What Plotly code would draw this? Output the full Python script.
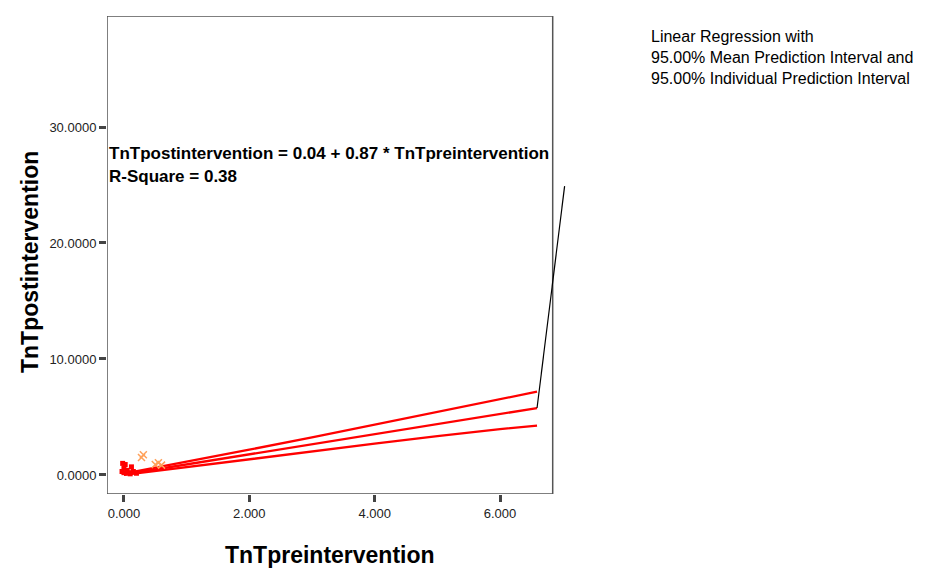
import plotly.graph_objects as go

# Data
line_x = [0.0, 1.0, 2.0, 3.0, 4.0, 5.0, 6.0, 6.59]
fit_y = [0.04, 0.91, 1.78, 2.65, 3.52, 4.39, 5.26, 5.77]
upper_y = [0.12, 1.13, 2.18, 3.25, 4.34, 5.43, 6.55, 7.18]
lower_y = [0.0, 0.69, 1.38, 2.05, 2.70, 3.35, 3.96, 4.25]

pts_x = [-0.03, 0.0, 0.02, -0.02, 0.05, 0.08, 0.1, 0.0, 0.12, 0.15, 0.2]
pts_y = [0.3, 0.6, 0.9, 1.0, 0.4, 0.2, 0.1, 0.2, 0.7, 0.3, 0.15]
faint_x = [0.28, 0.31, 0.5, 0.55, 0.6]
faint_y = [1.5, 1.75, 0.9, 1.05, 0.85]

connector_x = [6.59, 7.03]
connector_y = [5.77, 24.9]

x_ticks = [0, 2, 4, 6]
x_tick_text = ["0.000", "2.000", "4.000", "6.000"]
y_ticks = [0, 10, 20, 30]
y_tick_text = ["0.0000", "10.0000", "20.0000", "30.0000"]

x_box = [-0.27, 6.84]
y_box = [-1.64, 39.57]

FONT = "Liberation Sans, Arial, sans-serif"

fig = go.Figure()
for ys in (upper_y, fit_y, lower_y):
    fig.add_trace(go.Scatter(x=line_x, y=ys, mode="lines",
                             line=dict(color="#ff0000", width=2.3), showlegend=False))
fig.add_trace(go.Scatter(x=pts_x, y=pts_y, mode="markers",
                         marker=dict(symbol="square", size=5, color="#ff0000"),
                         showlegend=False))
fig.add_trace(go.Scatter(x=faint_x, y=faint_y, mode="markers",
                         marker=dict(symbol="x-thin-open", size=7,
                                     line=dict(color="rgba(240,90,110,0.55)", width=1.5)),
                         showlegend=False))
fig.add_trace(go.Scatter(x=connector_x, y=connector_y, mode="lines",
                         line=dict(color="black", width=1.2), showlegend=False))

fig.add_shape(type="rect", xref="x", yref="y", x0=x_box[0], x1=x_box[1],
              y0=y_box[0], y1=y_box[1], line=dict(color="#555555", width=1.5),
              layer="below")

fig.update_layout(
    width=930, height=568,
    margin=dict(l=107, r=361, t=16, b=74),
    paper_bgcolor="white", plot_bgcolor="white",
    font=dict(family=FONT, color="#222222"),
    xaxis=dict(range=[-0.27, 7.1], showgrid=False, zeroline=False, showline=False,
               tickvals=x_ticks, ticktext=x_tick_text, ticks="outside",
               ticklen=7, tickwidth=3, tickcolor="#444444",
               tickfont=dict(size=13, family=FONT, color="#222222")),
    yaxis=dict(range=y_box, showgrid=False, zeroline=False, showline=False,
               tickvals=y_ticks, ticktext=y_tick_text, ticks="outside",
               ticklen=7, tickwidth=3, tickcolor="#444444",
               tickfont=dict(size=13, family=FONT, color="#222222")),
    annotations=[
        dict(text="<b>TnTpostintervention = 0.04 + 0.87 * TnTpreintervention</b>",
             xref="paper", yref="paper", x=(107 - 107) / 462, y=(494 - 153) / 478,
             xanchor="left", yanchor="middle", showarrow=False,
             font=dict(size=17, family=FONT, color="black")),
        dict(text="<b>R-Square = 0.38</b>",
             xref="paper", yref="paper", x=(107 - 107) / 462, y=(494 - 176) / 478,
             xanchor="left", yanchor="middle", showarrow=False,
             font=dict(size=17, family=FONT, color="black")),
        dict(text="<b>TnTpreintervention</b>", xref="paper", yref="paper",
             x=(330 - 107) / 462, y=(494 - 555) / 478, xanchor="center", yanchor="middle",
             showarrow=False, font=dict(size=23, family=FONT, color="black")),
        dict(text="<b>TnTpostintervention</b>", xref="paper", yref="paper",
             x=(30 - 107) / 462, y=(494 - 262) / 478, xanchor="center", yanchor="middle",
             textangle=-90, showarrow=False, font=dict(size=23, family=FONT, color="black")),
        dict(text="Linear Regression with<br>95.00% Mean Prediction Interval and<br>95.00% Individual Prediction Interval",
             xref="paper", yref="paper", x=(649 - 107) / 462, y=(494 - 26) / 478,
             xanchor="left", yanchor="top", align="left", showarrow=False,
             font=dict(size=16, family=FONT, color="black")),
    ],
)

fig.write_html("out.html")
